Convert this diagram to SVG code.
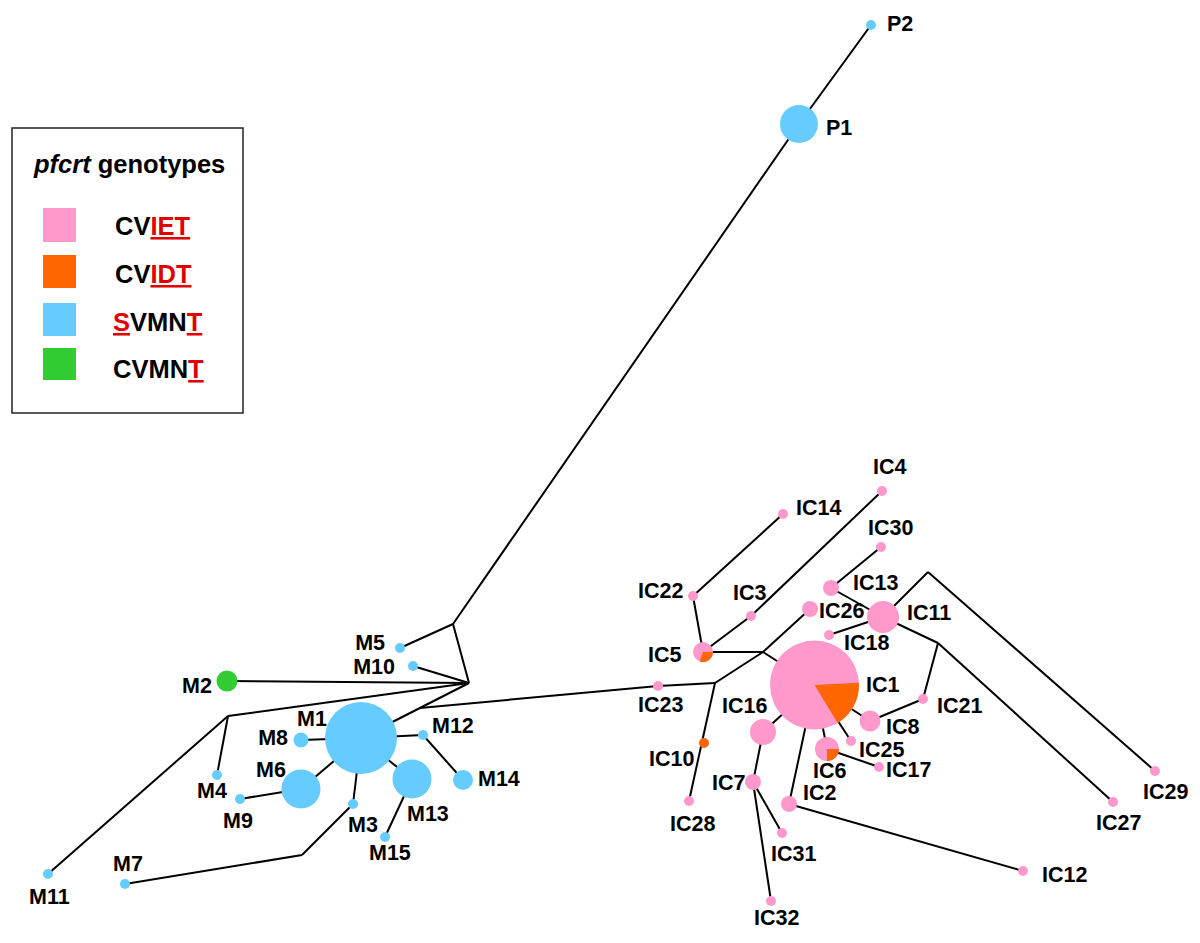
<svg xmlns="http://www.w3.org/2000/svg" width="1200" height="943" viewBox="0 0 1200 943">
<style>
.e{stroke:#000;stroke-width:2;fill:none}
.b{fill:#66CCFF}.p{fill:#FF99CC}.o{fill:#FF6600}.g{fill:#33CC33}
text{font-family:"Liberation Sans",Arial,sans-serif;font-weight:bold;fill:#000}
.l{font-size:21.5px}
.lg{font-size:25.5px}
.r{fill:#E00000;text-decoration:underline}
</style>
<rect width="1200" height="943" fill="#fff"/>
<g id="legend">
<rect x="12" y="128" width="231" height="285" fill="#fff" stroke="#222" stroke-width="1.5"/>
<text class="lg" x="34" y="173"><tspan font-style="italic">pfcrt</tspan> genotypes</text>
<rect x="43" y="208" width="33" height="34" class="p"/>
<rect x="43" y="255" width="33" height="33" class="o"/>
<rect x="43" y="303" width="33" height="33" class="b"/>
<rect x="43" y="348" width="33" height="32" class="g"/>
<text class="lg" x="115" y="235">CV<tspan class="r">IET</tspan></text>
<text class="lg" x="115" y="283">CV<tspan class="r">IDT</tspan></text>
<text class="lg" x="113" y="331"><tspan class="r">S</tspan>VMN<tspan class="r">T</tspan></text>
<text class="lg" x="113" y="378">CVMN<tspan class="r">T</tspan></text>
</g>
<g id="connectors" class="e">
<line x1="871" y1="25" x2="799" y2="124"/>
<line x1="799" y1="124" x2="453" y2="624"/>
<line x1="453" y1="624" x2="400" y2="648"/>
<line x1="453" y1="624" x2="469" y2="683"/>
<line x1="469" y1="683" x2="413" y2="666"/>
<line x1="469" y1="683" x2="227" y2="681"/>
<line x1="469" y1="683" x2="228" y2="716"/>
<line x1="228" y1="716" x2="48" y2="874"/>
<line x1="228" y1="716" x2="217" y2="775"/>
<line x1="469" y1="683" x2="361" y2="738"/>
<line x1="420" y1="708" x2="658" y2="686"/>
<line x1="658" y1="686" x2="715" y2="683"/>
<line x1="361" y1="738" x2="301" y2="740"/>
<line x1="361" y1="738" x2="301" y2="789"/>
<line x1="301" y1="789" x2="240" y2="799"/>
<line x1="361" y1="738" x2="353" y2="804"/>
<line x1="353" y1="804" x2="302" y2="855"/>
<line x1="302" y1="855" x2="125" y2="884"/>
<line x1="361" y1="738" x2="412" y2="779"/>
<line x1="412" y1="779" x2="385" y2="837"/>
<line x1="361" y1="738" x2="423" y2="735"/>
<line x1="423" y1="735" x2="463" y2="780"/>
<line x1="715" y1="683" x2="763" y2="652"/>
<line x1="715" y1="683" x2="689" y2="801"/>
<line x1="763" y1="652" x2="703" y2="652"/>
<line x1="763" y1="652" x2="814.5" y2="685"/>
<line x1="763" y1="652" x2="810" y2="609"/>
<line x1="703" y1="652" x2="693" y2="596"/>
<line x1="693" y1="596" x2="783" y2="514"/>
<line x1="703" y1="652" x2="751" y2="616"/>
<line x1="751" y1="616" x2="882" y2="491"/>
<line x1="881" y1="547" x2="831" y2="588"/>
<line x1="831" y1="588" x2="883" y2="617"/>
<line x1="829" y1="635" x2="883" y2="617"/>
<line x1="883" y1="617" x2="928" y2="572"/>
<line x1="928" y1="572" x2="1155" y2="771"/>
<line x1="883" y1="617" x2="938" y2="643"/>
<line x1="938" y1="643" x2="923" y2="699"/>
<line x1="938" y1="643" x2="1113" y2="802"/>
<line x1="814.5" y1="685" x2="870" y2="721"/>
<line x1="870" y1="721" x2="923" y2="699"/>
<line x1="814.5" y1="685" x2="851" y2="741"/>
<line x1="814.5" y1="685" x2="827" y2="749"/>
<line x1="827" y1="749" x2="879" y2="767"/>
<line x1="814.5" y1="685" x2="763" y2="732"/>
<line x1="763" y1="732" x2="753" y2="782"/>
<line x1="753" y1="782" x2="782" y2="833"/>
<line x1="753" y1="782" x2="771" y2="901"/>
<line x1="814.5" y1="685" x2="789" y2="804"/>
<line x1="789" y1="804" x2="1023" y2="871"/>
</g>
<g id="P1"><circle cx="799" cy="124" r="19" class="b"/><text class="l" x="826" y="135">P1</text></g>
<g id="P2"><circle cx="871" cy="25" r="5" class="b"/><text class="l" x="887" y="31">P2</text></g>
<g id="M1"><circle cx="361" cy="738" r="36" class="b"/><text class="l" x="297" y="726">M1</text></g>
<g id="M2"><circle cx="227" cy="681" r="10.5" class="g"/><text class="l" x="182" y="693">M2</text></g>
<g id="M3"><circle cx="353" cy="804" r="5" class="b"/><text class="l" x="348" y="832">M3</text></g>
<g id="M4"><circle cx="217" cy="775" r="5" class="b"/><text class="l" x="197" y="798">M4</text></g>
<g id="M5"><circle cx="400" cy="648" r="5" class="b"/><text class="l" x="385" y="650" text-anchor="end">M5</text></g>
<g id="M6"><circle cx="301" cy="789" r="19.5" class="b"/><text class="l" x="256" y="777">M6</text></g>
<g id="M7"><circle cx="125" cy="884" r="5" class="b"/><text class="l" x="113" y="871">M7</text></g>
<g id="M8"><circle cx="301" cy="740" r="7.5" class="b"/><text class="l" x="288" y="745" text-anchor="end">M8</text></g>
<g id="M9"><circle cx="240" cy="799" r="5" class="b"/><text class="l" x="223" y="828">M9</text></g>
<g id="M10"><circle cx="413" cy="666" r="5" class="b"/><text class="l" x="395" y="674" text-anchor="end">M10</text></g>
<g id="M11"><circle cx="48" cy="874" r="5" class="b"/><text class="l" x="29" y="904">M11</text></g>
<g id="M12"><circle cx="423" cy="735" r="5" class="b"/><text class="l" x="432" y="733">M12</text></g>
<g id="M13"><circle cx="412" cy="779" r="19.5" class="b"/><text class="l" x="407" y="821">M13</text></g>
<g id="M14"><circle cx="463" cy="780" r="10" class="b"/><text class="l" x="478" y="786">M14</text></g>
<g id="M15"><circle cx="385" cy="837" r="5" class="b"/><text class="l" x="369" y="860">M15</text></g>
<g id="IC1"><circle cx="814.5" cy="685" r="44.5" class="p"/><path d="M814.5,685 L858.9,682.7 A44.5,44.5 0 0 1 837.7,723 Z" class="o"/><text class="l" x="866" y="692">IC1</text></g>
<g id="IC2"><circle cx="789" cy="804" r="8" class="p"/><text class="l" x="803" y="800">IC2</text></g>
<g id="IC3"><circle cx="751" cy="616" r="5" class="p"/><text class="l" x="733" y="600">IC3</text></g>
<g id="IC4"><circle cx="882" cy="491" r="5" class="p"/><text class="l" x="873" y="474">IC4</text></g>
<g id="IC5"><circle cx="703" cy="652" r="10" class="p"/><path d="M703,652 L713,652 A10,10 0 0 1 699.6,661.4 Z" class="o"/><text class="l" x="648" y="662">IC5</text></g>
<g id="IC6"><circle cx="827" cy="749" r="12" class="p"/><path d="M827,749 L839,749 A12,12 0 0 1 827,761 Z" class="o"/><text class="l" x="813" y="778">IC6</text></g>
<g id="IC7"><circle cx="753" cy="782" r="8" class="p"/><text class="l" x="712" y="790">IC7</text></g>
<g id="IC8"><circle cx="870" cy="721" r="10.5" class="p"/><text class="l" x="886" y="734">IC8</text></g>
<g id="IC10"><circle cx="704" cy="743" r="5" class="o"/><text class="l" x="649" y="766">IC10</text></g>
<g id="IC11"><circle cx="883" cy="617" r="16" class="p"/><text class="l" x="907" y="620">IC11</text></g>
<g id="IC12"><circle cx="1023" cy="871" r="5" class="p"/><text class="l" x="1042" y="882">IC12</text></g>
<g id="IC13"><circle cx="831" cy="588" r="8" class="p"/><text class="l" x="853" y="590">IC13</text></g>
<g id="IC14"><circle cx="783" cy="514" r="5" class="p"/><text class="l" x="796" y="515">IC14</text></g>
<g id="IC16"><circle cx="763" cy="732" r="13" class="p"/><text class="l" x="722" y="713">IC16</text></g>
<g id="IC17"><circle cx="879" cy="767" r="5" class="p"/><text class="l" x="886" y="777">IC17</text></g>
<g id="IC18"><circle cx="829" cy="635" r="5" class="p"/><text class="l" x="844" y="650">IC18</text></g>
<g id="IC21"><circle cx="923" cy="699" r="5" class="p"/><text class="l" x="937" y="713">IC21</text></g>
<g id="IC22"><circle cx="693" cy="596" r="5" class="p"/><text class="l" x="638" y="598">IC22</text></g>
<g id="IC23"><circle cx="658" cy="686" r="5" class="p"/><text class="l" x="638" y="712">IC23</text></g>
<g id="IC25"><circle cx="851" cy="741" r="5" class="p"/><text class="l" x="859" y="757">IC25</text></g>
<g id="IC26"><circle cx="810" cy="609" r="8" class="p"/><text class="l" x="819" y="618">IC26</text></g>
<g id="IC27"><circle cx="1113" cy="802" r="5" class="p"/><text class="l" x="1096" y="830">IC27</text></g>
<g id="IC28"><circle cx="689" cy="801" r="5" class="p"/><text class="l" x="670" y="831">IC28</text></g>
<g id="IC29"><circle cx="1155" cy="771" r="5" class="p"/><text class="l" x="1143" y="799">IC29</text></g>
<g id="IC30"><circle cx="881" cy="547" r="5" class="p"/><text class="l" x="868" y="535">IC30</text></g>
<g id="IC31"><circle cx="782" cy="833" r="5" class="p"/><text class="l" x="771" y="861">IC31</text></g>
<g id="IC32"><circle cx="771" cy="901" r="5" class="p"/><text class="l" x="754" y="925">IC32</text></g>
</svg>
